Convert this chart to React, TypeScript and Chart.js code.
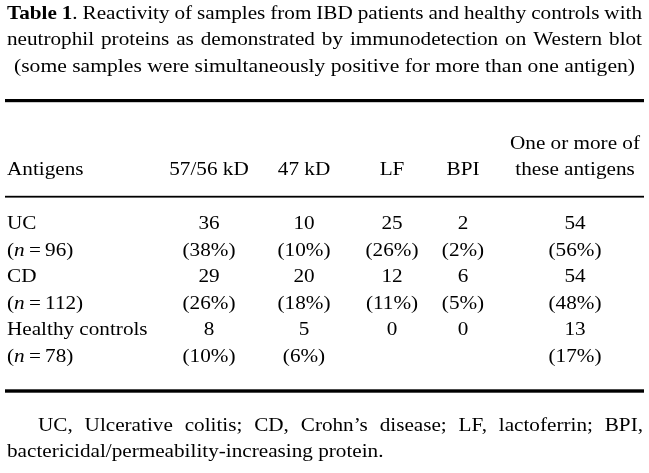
import React, { useEffect, useRef } from "react";
import { Chart, registerables } from "chart.js";
Chart.register(...registerables);

// ---------- data ----------
const titleLabel = "Table 1";
const titleLines = [
  ". Reactivity of samples from IBD patients and healthy controls with",
  "neutrophil proteins as demonstrated by immunodetection on Western blot",
  "(some samples were simultaneously positive for more than one antigen)",
];
const rowHeader = "Antigens";
const antigenColumns = ["57/56 kD", "47 kD", "LF", "BPI"];
const anyColumn = ["One or more of", "these antigens"];
const groups = ["UC", "CD", "Healthy controls"];
const groupN = [96, 112, 78];
const counts = [
  [36, 10, 25, 2, 54],
  [29, 20, 12, 6, 54],
  [8, 5, 0, 0, 13],
];
const percents: (number | null)[][] = [
  [38, 10, 26, 2, 56],
  [26, 18, 11, 5, 48],
  [10, 6, null, null, 17],
];
const footnoteLines = [
  "UC, Ulcerative colitis; CD, Crohn\u2019s disease; LF, lactoferrin; BPI,",
  "bactericidal/permeability-increasing protein.",
];

// ---------- layout (positions in scale units) ----------
const W = 649;
const H = 473;
const SX_DEFAULT = 1.115;
let SX = SX_DEFAULT;
const FAMILY = '"Liberation Serif", "Times New Roman", serif';
const FS = 19;
const fNormal = `${FS}px ${FAMILY}`;
const fBold = `bold ${FS}px ${FAMILY}`;
const fItalic = `italic ${FS}px ${FAMILY}`;
const leftX = 7;
const rightX = 642;
const title3X = [14, 635];
const colX = [209, 304, 392, 463, 575];
const titleY = [19, 45, 72];
const headY = [149, 175];
const groupY0 = 229;
const groupStep = 53;
const nLineOffset = 26.5;
const footY = [431, 457];
const footIndent = 38;
const footRight = 643;
const rules = [
  { y: 99, h: 3.2 },
  { y: 195.8, h: 1.8 },
  { y: 389.3, h: 3.4 },
];
const ruleX0 = 5;
const ruleX1 = 644;

type Seg = { text: string; font: string };

function segWidth(ctx: CanvasRenderingContext2D, segs: Seg[]) {
  let w = 0;
  for (const s of segs) {
    ctx.font = s.font;
    w += ctx.measureText(s.text).width * SX;
  }
  return w;
}

function drawSegs(ctx: CanvasRenderingContext2D, segs: Seg[], x: number, y: number, align: "left" | "center" | "right" = "left") {
  const w = segWidth(ctx, segs);
  let left = x;
  if (align === "center") left = x - w / 2;
  else if (align === "right") left = x - w;
  for (const s of segs) {
    ctx.font = s.font;
    const sw = ctx.measureText(s.text).width;
    ctx.save();
    ctx.translate(left, y);
    ctx.scale(SX, 1);
    ctx.fillText(s.text, 0, 0);
    ctx.restore();
    left += sw * SX;
  }
}

function drawJustified(ctx: CanvasRenderingContext2D, words: Seg[][], x0: number, x1: number, y: number) {
  const widths = words.map((w) => segWidth(ctx, w));
  const total = widths.reduce((a, b) => a + b, 0);
  const gap = words.length > 1 ? (x1 - x0 - total) / (words.length - 1) : 0;
  let x = x0;
  words.forEach((w, i) => {
    drawSegs(ctx, w, x, y, "left");
    x += widths[i] + gap;
  });
}

function drawFitted(ctx: CanvasRenderingContext2D, text: string, x0: number, x1: number, y: number) {
  ctx.font = fNormal;
  const natural = ctx.measureText(text).width;
  const prev = SX;
  SX = (x1 - x0) / natural;
  drawSegs(ctx, [{ text, font: fNormal }], x0, y, "left");
  SX = prev;
}

const plainWords = (s: string): Seg[][] => s.split(" ").map((t) => [{ text: t, font: fNormal }]);

const tablePlugin = {
  id: "tableText",
  afterDraw(chart: any) {
    const ctx: CanvasRenderingContext2D = chart.ctx;
    const xs = chart.scales.x;
    const ys = chart.scales.y;
    const px = (v: number) => xs.getPixelForValue(v);
    const py = (v: number) => ys.getPixelForValue(v);
    ctx.save();
    ctx.fillStyle = "#000";
    ctx.textBaseline = "alphabetic";
    ctx.textAlign = "left";

    // title
    const labelParts = titleLabel.split(" ");
    const l1 = plainWords(titleLines[0].slice(2));
    const first: Seg[][] = [
      [{ text: labelParts[0], font: fBold }],
      [{ text: labelParts[1], font: fBold }, { text: ".", font: fNormal }],
      ...l1,
    ];
    drawJustified(ctx, first, px(leftX), px(rightX), py(titleY[0]));
    drawJustified(ctx, plainWords(titleLines[1]), px(leftX), px(rightX), py(titleY[1]));
    drawFitted(ctx, titleLines[2], px(title3X[0]), px(title3X[1]), py(titleY[2]));

    // rules
    for (const r of rules) {
      ctx.fillRect(px(ruleX0), py(r.y), px(ruleX1) - px(ruleX0), py(r.y + r.h) - py(r.y));
    }

    // header
    drawSegs(ctx, [{ text: rowHeader, font: fNormal }], px(leftX), py(headY[1]), "left");
    antigenColumns.forEach((c, j) => {
      drawSegs(ctx, [{ text: c, font: fNormal }], px(colX[j]), py(headY[1]), "center");
    });
    drawSegs(ctx, [{ text: anyColumn[0], font: fNormal }], px(colX[4]), py(headY[0]), "center");
    drawSegs(ctx, [{ text: anyColumn[1], font: fNormal }], px(colX[4]), py(headY[1]), "center");

    // body
    groups.forEach((g, i) => {
      const yA = groupY0 + i * groupStep;
      const yB = yA + nLineOffset;
      drawSegs(ctx, [{ text: g, font: fNormal }], px(leftX), py(yA), "left");
      drawSegs(
        ctx,
        [
          { text: "(", font: fNormal },
          { text: "n", font: fItalic },
          { text: "\u2009=\u2009" + groupN[i] + ")", font: fNormal },
        ],
        px(leftX),
        py(yB),
        "left"
      );
      counts[i].forEach((v, j) => {
        drawSegs(ctx, [{ text: String(v), font: fNormal }], px(colX[j]), py(yA), "center");
        const p = percents[i][j];
        if (p !== null) {
          drawSegs(ctx, [{ text: `(${p}%)`, font: fNormal }], px(colX[j]), py(yB), "center");
        }
      });
    });

    // footnote
    drawJustified(ctx, plainWords(footnoteLines[0]), px(footIndent), px(footRight), py(footY[0]));
    drawSegs(ctx, [{ text: footnoteLines[1], font: fNormal }], px(leftX), py(footY[1]), "left");

    ctx.restore();
  },
};

export default function App() {
  const ref = useRef<HTMLCanvasElement | null>(null);
  useEffect(() => {
    document.body.style.margin = "0";
    document.body.style.background = "#fff";
    const canvas = ref.current;
    if (!canvas) return;
    const cellPoints: { x: number; y: number }[] = [];
    groups.forEach((_, i) =>
      counts[i].forEach((__, j) => cellPoints.push({ x: colX[j], y: groupY0 + i * groupStep }))
    );
    const chart = new Chart(canvas, {
      type: "scatter",
      data: {
        datasets: [
          {
            label: "cells",
            data: cellPoints,
            pointRadius: 0,
            pointHoverRadius: 0,
          },
        ],
      },
      options: {
        animation: false,
        responsive: false,
        maintainAspectRatio: false,
        devicePixelRatio: 1,
        layout: { padding: 0 },
        events: [],
        plugins: {
          legend: { display: false },
          title: { display: false },
          tooltip: { enabled: false },
        },
        scales: {
          x: { type: "linear", min: 0, max: W, display: false },
          y: { type: "linear", min: 0, max: H, reverse: true, display: false },
        },
      },
      plugins: [
        {
          id: "whiteBg",
          beforeDraw(c: any) {
            const cx = c.ctx;
            cx.save();
            cx.fillStyle = "#fff";
            cx.fillRect(0, 0, c.width, c.height);
            cx.restore();
          },
        },
        tablePlugin,
      ],
    });
    return () => chart.destroy();
  }, []);
  return (
    <div style={{ width: W, height: H, background: "#fff" }}>
      <canvas ref={ref} width={W} height={H} style={{ display: "block", width: W, height: H }} />
    </div>
  );
}
